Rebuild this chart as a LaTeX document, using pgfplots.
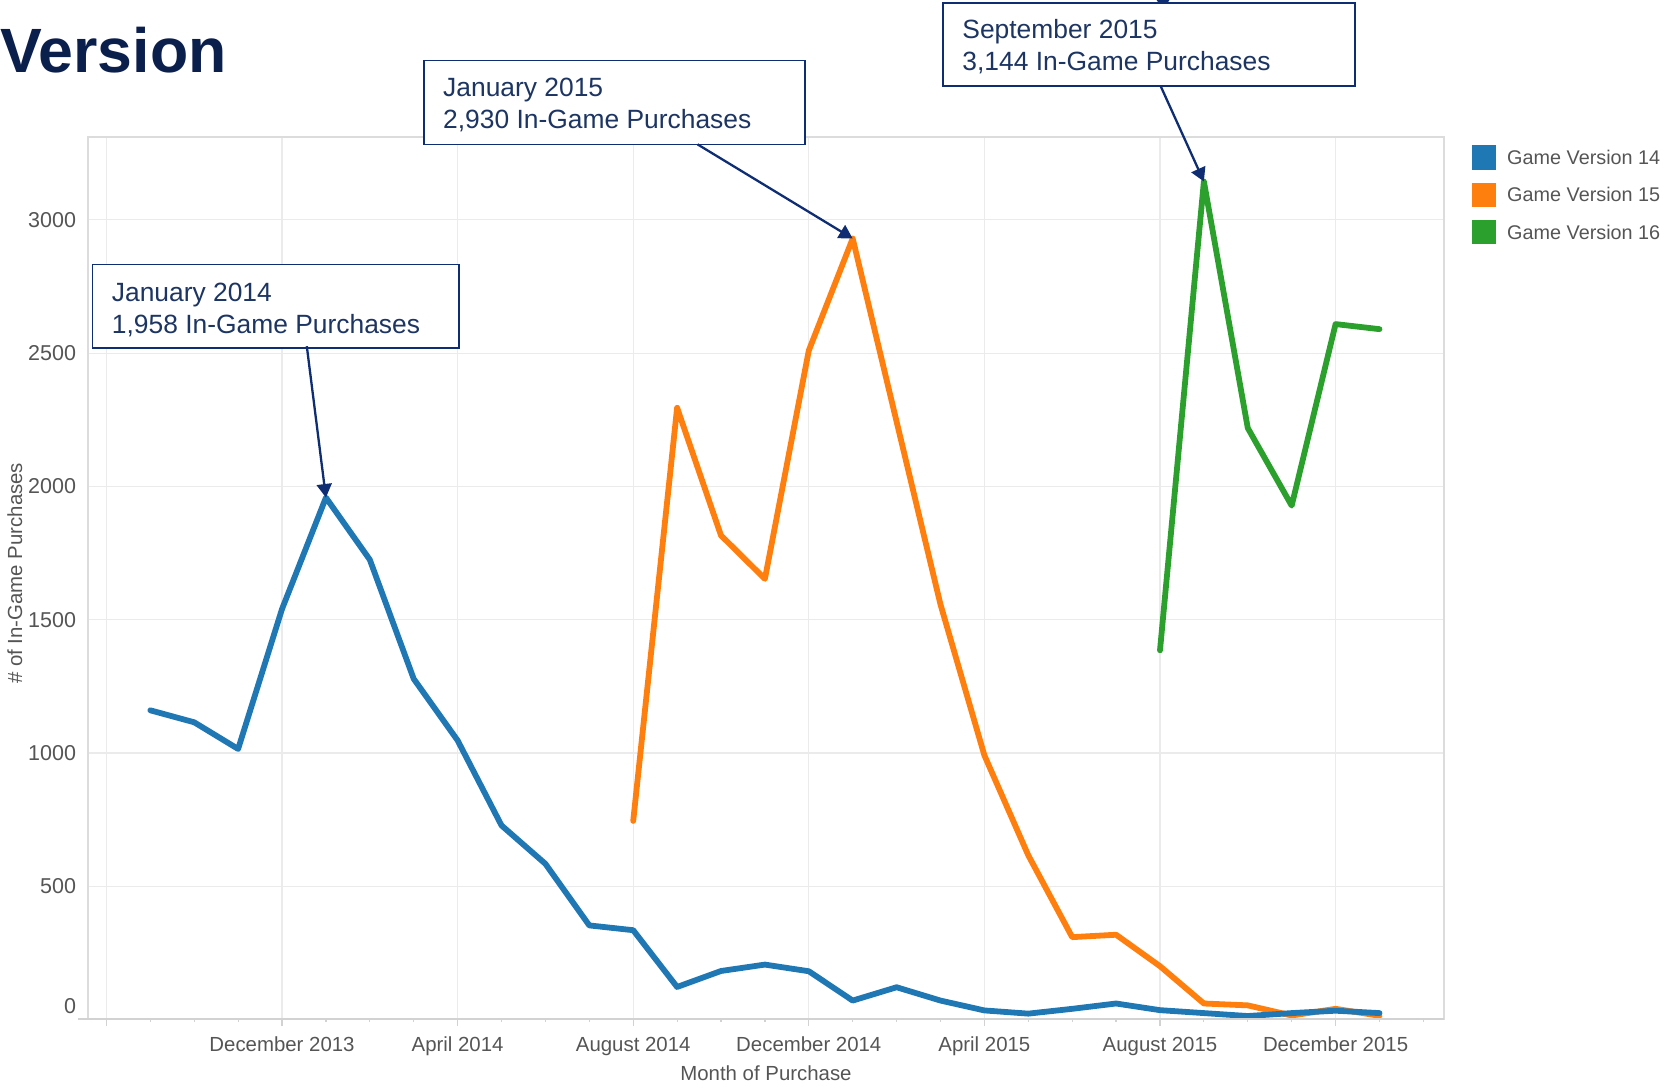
\documentclass[border=0pt]{standalone}
\usepackage{pgfplots}
\pgfplotsset{compat=1.18}
\usepackage{pgfplotstable}
\usepackage{fontspec}
\setmainfont{Liberation Sans}
\usetikzlibrary{arrows.meta}
\definecolor{c14}{HTML}{1F77B4}
\definecolor{c15}{HTML}{FF7F0E}
\definecolor{c16}{HTML}{2CA02C}
\definecolor{titlec}{HTML}{0B1F4D}
\definecolor{annc}{HTML}{1D3563}
\definecolor{annb}{HTML}{0F2D73}
\definecolor{txtgray}{HTML}{555555}
\definecolor{gridc}{HTML}{EBEBEB}
\definecolor{framec}{HTML}{DCDCDC}
\definecolor{axc}{HTML}{D2D2D2}

% month index: 0 = August 2013, 4 = December 2013, ..., 29 = January 2016
\pgfplotstableread{
m v
1 1160
2 1115
3 1015
4 1540
5 1958
6 1725
7 1278
8 1047
9 728
10 584
11 353
12 335
13 122
14 182
15 206
16 181
17 71
18 121
19 71
20 34
21 22
22 40
23 60
24 35
25 24
26 13
27 24
28 33
29 24
}\vfourteen

\pgfplotstableread{
m v
12 745
13 2295
14 1816
15 1653
16 2510
17 2930
18 2243
19 1557
20 991
21 616
22 309
23 318
24 200
25 60
26 53
27 15
28 40
29 14
}\vfifteen

\pgfplotstableread{
m v
24 1385
25 3144
26 2219
27 1928
28 2609
29 2590
}\vsixteen

\begin{document}
\begin{tikzpicture}
\path[use as bounding box] (0,0) rectangle (832.5bp,544bp);
\begin{axis}[
  at={(44bp,34.25bp)}, anchor=south west,
  scale only axis, width=678bp, height=441.25bp,
  xmin=-0.42, xmax=30.47, ymin=0, ymax=3311,
  xtick={0,4,...,28},
  xticklabels={,December 2013,April 2014,August 2014,December 2014,April 2015,August 2015,December 2015},
  minor xtick={0,...,30},
  ytick={500,1000,...,3000},
  extra y ticks={0},
  extra y tick style={yticklabel style={yshift=6.6bp}},
  /pgf/number format/1000 sep={},
  /pgf/number format/assume math mode=true,
  xtick pos=left, ytick pos=left,
  tick align=outside,
  major tick length=3.4bp, minor tick length=1.3bp,
  xtick style={color=axc, line width=0.6bp},
  ytick style={draw=none},
  xmajorgrids, ymajorgrids,
  major grid style={color=gridc, line width=0.6bp},
  axis line style={color=framec, line width=0.6bp},
  xticklabel style={font=\fontsize{10.2bp}{12bp}\selectfont, text=txtgray, anchor=base, inner sep=0pt, yshift=-12.4bp},
  yticklabel style={font=\fontsize{10.75bp}{12bp}\selectfont, text=txtgray, anchor=east, inner sep=0pt, xshift=-2.4bp},
  xlabel={Month of Purchase},
  ylabel={\# of In-Game Purchases},
  xlabel style={at={(axis description cs:0.5,-0.0613)}, anchor=center, font=\fontsize{10.2bp}{12bp}\selectfont, text=txtgray, inner sep=0pt},
  ylabel style={at={(axis description cs:-0.054,0.5055)}, anchor=center, font=\fontsize{10.2bp}{12bp}\selectfont, text=txtgray, inner sep=0pt},
  clip=false,
]
\addplot[c16, line width=2.9bp, line join=round, line cap=round] table[x=m,y=v]{\vsixteen};
\addplot[c15, line width=2.9bp, line join=round, line cap=round] table[x=m,y=v]{\vfifteen};
\addplot[c14, line width=2.9bp, line join=round, line cap=round] table[x=m,y=v]{\vfourteen};
\coordinate (p1) at (axis cs:5,1958);
\coordinate (p2) at (axis cs:17,2930);
\coordinate (p3) at (axis cs:25,3144);
\end{axis}
% darker bottom axis line
\draw[axc, line width=1bp] (39bp,34.25bp) -- (722bp,34.25bp);
% legend
\begin{scope}[every node/.style={anchor=west, inner sep=0pt, font=\fontsize{9.9bp}{12bp}\selectfont, text=txtgray}]
\fill[c14] (735.9bp,459.05bp) rectangle (748.1bp,471.25bp);
\node at (753.4bp,465.15bp) {Game Version 14};
\fill[c15] (735.9bp,440.45bp) rectangle (748.1bp,452.65bp);
\node at (753.4bp,446.55bp) {Game Version 15};
\fill[c16] (735.9bp,421.85bp) rectangle (748.1bp,434.05bp);
\node at (753.4bp,427.95bp) {Game Version 16};
\end{scope}
% title (cropped)
\node[anchor=base west, inner sep=0pt, font=\fontsize{31.3bp}{36bp}\selectfont\bfseries, text=titlec] at (0bp,507.9bp) {Version};
% annotations
\fill[annb] (581.5bp,545.2bp) circle (3.4bp);
\begin{scope}[every node/.style={anchor=west, inner sep=0pt, align=left, text=annc, font=\fontsize{13.2bp}{16bp}\selectfont}]
\draw[annb, line width=0.8bp, fill=white] (46.2bp,369.85bp) rectangle (229.4bp,411.8bp);
\node at (55.75bp,389.2bp) {January 2014\\1,958 In-Game Purchases};
\draw[annb, line width=0.8bp, fill=white] (211.85bp,471.8bp) rectangle (402.45bp,513.75bp);
\node at (221.4bp,491.6bp) {January 2015\\2,930 In-Game Purchases};
\draw[annb, line width=0.8bp, fill=white] (471.5bp,501bp) rectangle (677.5bp,542.4bp);
\node at (481bp,520.6bp) {September 2015\\3,144 In-Game Purchases};
\end{scope}
\draw[annb, line width=1.15bp, -{Triangle[length=6.8bp,width=7.5bp]}] (153.4bp,370.9bp) -- (p1);
\draw[annb, line width=1.15bp, -{Triangle[length=6.8bp,width=7.5bp]}] (348.8bp,471.8bp) -- (p2);
\draw[annb, line width=1.15bp, -{Triangle[length=6.8bp,width=7.5bp]}] (580.3bp,501bp) -- (p3);
\end{tikzpicture}
\end{document}
